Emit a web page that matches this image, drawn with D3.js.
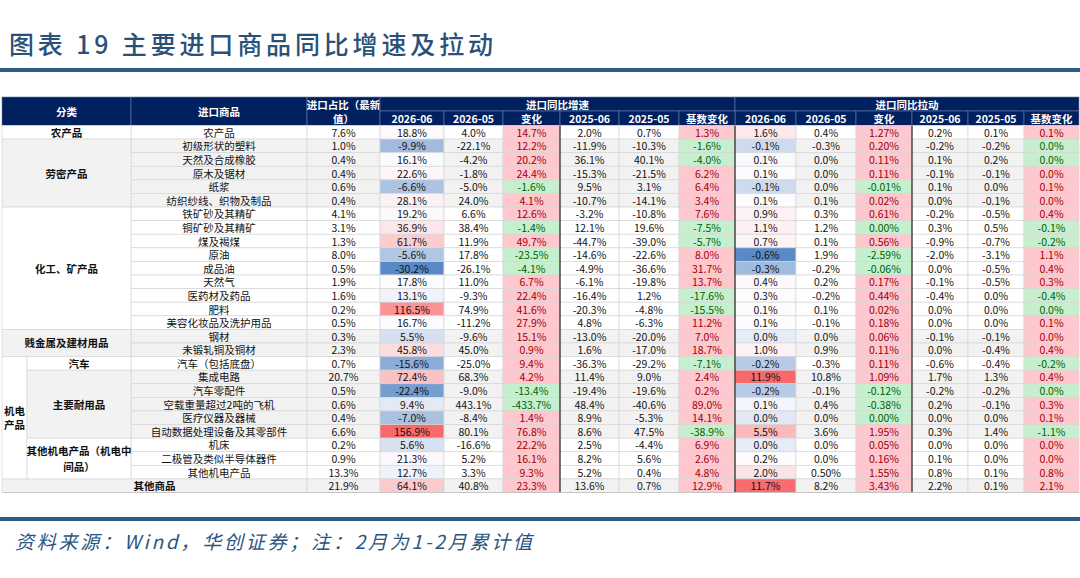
<!DOCTYPE html>
<html>
<head>
<meta charset="utf-8">
<script src="https://cdn.jsdelivr.net/npm/d3@7.9.0/dist/d3.min.js"></script>
<style>
  html, body { margin: 0; padding: 0; background: #fff; }
  svg { display: block; font-family: "Noto Sans CJK SC", "Noto Sans", sans-serif; }
</style>
</head>
<body>
<svg id="chart" width="1080" height="578"></svg>
<script>
// ---- data ----
const items = [
  "农产品", "初级形状的塑料", "天然及合成橡胶", "原木及锯材", "纸浆", "纺织纱线、织物及制品",
  "铁矿砂及其精矿", "铜矿砂及其精矿", "煤及褐煤", "原油", "成品油", "天然气", "医药材及药品",
  "肥料", "美容化妆品及洗护用品", "钢材", "未锻轧铜及铜材", "汽车（包括底盘）", "集成电路",
  "汽车零配件", "空载重量超过2吨的飞机", "医疗仪器及器械", "自动数据处理设备及其零部件",
  "机床", "二极管及类似半导体器件", "其他机电产品", "其他商品"
];

const share = [7.6, 1.0, 0.4, 0.4, 0.6, 0.4, 4.1, 3.1, 1.3, 8.0, 0.5, 1.9, 1.6, 0.2, 0.5, 0.3, 2.3, 0.7, 20.7, 0.5, 0.6, 0.4, 6.6, 0.2, 0.9, 13.3, 21.9];

// 进口同比增速
const g2606 = [18.8, -9.9, 16.1, 22.6, -6.6, 28.1, 19.2, 36.9, 61.7, -5.6, -30.2, 17.8, 13.1, 116.5, 16.7, 5.5, 45.8, -15.6, 72.4, -22.4, 9.4, -7.0, 156.9, 5.6, 21.3, 12.7, 64.1];
const g2605 = [4.0, -22.1, -4.2, -1.8, -5.0, 24.0, 6.6, 38.4, 11.9, 17.8, -26.1, 11.0, -9.3, 74.9, -11.2, -9.6, 45.0, -25.0, 68.3, -9.0, 443.1, -8.4, 80.1, -16.6, 5.2, 3.3, 40.8];
const gChg = [14.7, 12.2, 20.2, 24.4, -1.6, 4.1, 12.6, -1.4, 49.7, -23.5, -4.1, 6.7, 22.4, 41.6, 27.9, 15.1, 0.9, 9.4, 4.2, -13.4, -433.7, 1.4, 76.8, 22.2, 16.1, 9.3, 23.3];
const g2506 = [2.0, -11.9, 36.1, -15.3, 9.5, -10.7, -3.2, 12.1, -44.7, -14.6, -4.9, -6.1, -16.4, -20.3, 4.8, -13.0, 1.6, -36.3, 11.4, -19.4, 48.4, 8.9, 8.6, 2.5, 8.2, 5.2, 13.6];
const g2505 = [0.7, -10.3, 40.1, -21.5, 3.1, -14.1, -10.8, 19.6, -39.0, -22.6, -36.6, -19.8, 1.2, -4.8, -6.3, -20.0, -17.0, -29.2, 9.0, -19.6, -40.6, -5.3, 47.5, -4.4, 5.6, 0.4, 0.7];
const gBase = [1.3, -1.6, -4.0, 6.2, 6.4, 3.4, 7.6, -7.5, -5.7, 8.0, 31.7, 13.7, -17.6, -15.5, 11.2, 7.0, 18.7, -7.1, 2.4, 0.2, 89.0, 14.1, -38.9, 6.9, 2.6, 4.8, 12.9];

// 进口同比拉动
const p2606 = [1.6, -0.1, 0.08, 0.1, -0.1, 0.1, 0.9, 1.1, 0.7, -0.6, -0.3, 0.4, 0.3, 0.1, 0.1, 0.0, 1.0, -0.2, 11.9, -0.2, 0.06, -0.02, 5.5, 0.0, 0.2, 2.0, 11.7];
const p2605 = [0.4, -0.3, 0.0, 0.0, 0.0, 0.1, 0.3, 1.2, 0.1, 1.9, -0.2, 0.2, -0.2, 0.1, -0.1, 0.0, 0.9, -0.3, 10.8, -0.1, 0.4, 0.0, 3.6, 0.0, 0.0, 0.5, 8.2];
const pChg = [1.27, 0.20, 0.11, 0.11, -0.01, 0.02, 0.61, -0.001, 0.56, -2.59, -0.06, 0.17, 0.44, 0.02, 0.18, 0.06, 0.11, 0.11, 1.09, -0.12, -0.38, -0.001, 1.95, 0.05, 0.16, 1.55, 3.43];
const p2506 = [0.2, -0.2, 0.1, -0.1, 0.1, 0.0, -0.2, 0.3, -0.9, -2.0, 0.0, -0.1, -0.4, 0.0, 0.0, -0.1, 0.0, -0.6, 1.7, -0.2, 0.2, 0.0, 0.3, 0.0, 0.1, 0.8, 2.2];
const p2505 = [0.1, -0.2, 0.2, -0.1, 0.0, -0.1, -0.5, 0.5, -0.7, -3.1, -0.5, -0.5, 0.0, 0.0, 0.0, -0.1, -0.4, -0.4, 1.3, -0.2, -0.1, 0.0, 1.4, 0.0, 0.0, 0.1, 0.1];
const pBase = [0.1, -0.02, -0.02, 0.02, 0.1, 0.02, 0.4, -0.1, -0.2, 1.1, 0.4, 0.3, -0.4, -0.02, 0.1, 0.02, 0.4, -0.2, 0.4, -0.02, 0.3, 0.1, -1.1, 0.02, 0.02, 0.8, 2.1];

// cells shown with two decimals in a one-decimal column
const twoDecimalCells = [{ item: "其他机电产品", col: "p2605" }];

// category tree: top level, then 机电产品 sub groups
const groupLabels = ["农产品", "劳密产品", "化工、矿产品", "贱金属及建材用品", "机电产品", "其他商品"];
const groupSizes = [1, 5, 9, 2, 9, 1];
const subGroupLabels = ["汽车", "主要耐用品", "其他机电产品（机电中间品）"];
const subGroupSizes = [1, 5, 3];

const subHeaders = ["2026-06", "2026-05", "变化", "2025-06", "2025-05", "基数变化"];
const title = "图表 19 主要进口商品同比增速及拉动";
const source = "资料来源：Wind，华创证券；注：2月为1-2月累计值";

// ---- layout ----
const colWidths = [25, 104, 176, 73, 64, 59, 57, 59, 60, 56, 61, 60, 56, 56, 56, 55];
const colX = [2, ...d3.cumsum(colWidths).map(d => d + 2)];
const headTop = 97, headMid = 111, bodyTop = 125.5, bodyBottom = 492.5;
const navy = "#002060", gray = "#f2f2f2", grid = "#d6d6d6";
const fs = 10.5;

const rowY = d3.scaleBand().domain(d3.range(items.length)).range([bodyTop, bodyBottom]);
const f1 = d3.formatLocale({ decimal: ".", thousands: ",", grouping: [3], currency: ["", ""], minus: "-" });
const fmt1 = v => f1.format(".1f")(v) + "%";
const fmt2 = v => f1.format(".2f")(v) + "%";

function heat(values) {
  return d3.scaleLinear()
    .domain([d3.min(values), d3.median(values), d3.max(values)])
    .range(["#5A8AC6", "#FCFCFF", "#F8696B"])
    .interpolate(d3.interpolateRgb);
}
const signFill = v => v < 0 ? "#C6EFCE" : "#FFC7CE";
const signText = v => v < 0 ? "#006100" : "#9C0006";

const valueCols = [
  { key: "share", data: share, fmt: fmt1 },
  { key: "g2606", data: g2606, fmt: fmt1, heat: heat(g2606) },
  { key: "g2605", data: g2605, fmt: fmt1 },
  { key: "gChg", data: gChg, fmt: fmt1, sign: true },
  { key: "g2506", data: g2506, fmt: fmt1 },
  { key: "g2505", data: g2505, fmt: fmt1 },
  { key: "gBase", data: gBase, fmt: fmt1, sign: true },
  { key: "p2606", data: p2606, fmt: fmt1, heat: heat(p2606) },
  { key: "p2605", data: p2605, fmt: fmt1 },
  { key: "pChg", data: pChg, fmt: fmt2, sign: true },
  { key: "p2506", data: p2506, fmt: fmt1 },
  { key: "p2505", data: p2505, fmt: fmt1 },
  { key: "pBase", data: pBase, fmt: fmt1, sign: true }
];

// leaf groups alternate white / gray
const groupStarts = [0, ...d3.cumsum(groupSizes)];
const subStart = groupStarts[groupLabels.indexOf("机电产品")];
const subStarts = [0, ...d3.cumsum(subGroupSizes)].map(d => d + subStart);
const leaves = [];
groupLabels.forEach((g, i) => {
  if (g === "机电产品") {
    subGroupLabels.forEach((s, j) => leaves.push({ start: subStarts[j], n: subGroupSizes[j] }));
  } else {
    leaves.push({ start: groupStarts[i], n: groupSizes[i] });
  }
});
const rowShade = new Array(items.length).fill(false);
leaves.forEach((l, k) => d3.range(l.start, l.start + l.n).forEach(r => rowShade[r] = k % 2 === 1));

const svg = d3.select("#chart");

// ---- title & source ----
svg.append("text")
  .attr("x", 9).attr("y", 54)
  .attr("textLength", 484).attr("lengthAdjust", "spacing")
  .style("font-size", "25px").style("font-weight", 500)
  .attr("fill", "#2a5179")
  .text(title);
svg.append("rect").attr("x", 0).attr("y", 68).attr("width", 1080).attr("height", 4).attr("fill", "#2f5d88");
svg.append("rect").attr("x", 0).attr("y", 517).attr("width", 1080).attr("height", 4).attr("fill", "#2f5d88");
svg.append("text")
  .attr("x", 15).attr("y", 549)
  .attr("textLength", 517).attr("lengthAdjust", "spacing")
  .style("font-size", "19px").style("font-style", "italic")
  .attr("fill", "#2a5580")
  .text(source);

// ---- header ----
const head = svg.append("g");
function headCell(c0, c1, y0, y1, lines) {
  head.append("rect")
    .attr("x", colX[c0]).attr("y", y0)
    .attr("width", colX[c1] - colX[c0]).attr("height", y1 - y0)
    .attr("fill", navy).attr("stroke", "#6f7fa3").attr("stroke-width", 0.6);
  const cx = (colX[c0] + colX[c1]) / 2, cy = (y0 + y1) / 2;
  lines.forEach((t, i) => {
    head.append("text")
      .attr("x", cx).attr("y", cy + (i - (lines.length - 1) / 2) * 14.5)
      .attr("text-anchor", "middle").attr("dominant-baseline", "central")
      .attr("fill", "#fff").style("font-size", fs + "px").style("font-weight", "bold")
      .text(t);
  });
}
headCell(0, 2, headTop, bodyTop, ["分类"]);
headCell(2, 3, headTop, bodyTop, ["进口商品"]);
headCell(3, 4, headTop, bodyTop, ["进口占比（最新", "值）"]);
headCell(4, 10, headTop, headMid, ["进口同比增速"]);
headCell(10, 16, headTop, headMid, ["进口同比拉动"]);
subHeaders.forEach((h, i) => {
  headCell(4 + i, 5 + i, headMid, bodyTop, [h]);
  headCell(10 + i, 11 + i, headMid, bodyTop, [h]);
});

// ---- body ----
const body = svg.append("g");
const rows = body.selectAll("g.row").data(items).join("g").attr("class", "row");
const last = items.length - 1;

// item name cell (其他商品 spans the category columns too)
rows.append("rect")
  .attr("x", (d, i) => i === last ? colX[0] : colX[2])
  .attr("y", (d, i) => rowY(i))
  .attr("width", (d, i) => colX[3] - (i === last ? colX[0] : colX[2]))
  .attr("height", rowY.bandwidth())
  .attr("fill", (d, i) => rowShade[i] ? gray : "#fff")
  .attr("stroke", grid).attr("stroke-width", 0.7);
rows.append("text")
  .attr("x", (d, i) => i === last ? (colX[0] + colX[3]) / 2 : (colX[2] + colX[3]) / 2)
  .attr("y", (d, i) => rowY(i) + rowY.bandwidth() / 2)
  .attr("text-anchor", "middle").attr("dominant-baseline", "central")
  .style("font-size", fs + "px")
  .style("font-weight", (d, i) => i === last ? "bold" : null)
  .attr("fill", "#111")
  .text(d => d);

valueCols.forEach((col, ci) => {
  const c = ci + 3;
  const cells = rows.append("g");
  cells.append("rect")
    .attr("x", colX[c]).attr("y", (d, i) => rowY(i))
    .attr("width", colX[c + 1] - colX[c]).attr("height", rowY.bandwidth())
    .attr("fill", (d, i) => {
      const v = col.data[i];
      if (col.heat) return col.heat(v);
      if (col.sign) return signFill(v);
      return rowShade[i] ? gray : "#fff";
    })
    .attr("stroke", grid).attr("stroke-width", 0.7);
  cells.append("text")
    .attr("x", (colX[c] + colX[c + 1]) / 2)
    .attr("y", (d, i) => rowY(i) + rowY.bandwidth() / 2)
    .attr("text-anchor", "middle").attr("dominant-baseline", "central")
    .style("font-size", fs + "px")
    .attr("fill", (d, i) => col.sign ? signText(col.data[i]) : "#111")
    .text((d, i) => {
      const two = twoDecimalCells.some(e => e.item === d && e.col === col.key);
      return two ? fmt2(col.data[i]) : col.fmt(col.data[i]);
    });
});

// category cells
function groupCell(c0, c1, start, n, label, shade, lines, gap) {
  const y0 = rowY(start), y1 = rowY(start + n - 1) + rowY.bandwidth();
  body.append("rect")
    .attr("x", colX[c0]).attr("y", y0)
    .attr("width", colX[c1] - colX[c0]).attr("height", y1 - y0)
    .attr("fill", shade ? gray : "#fff")
    .attr("stroke", grid).attr("stroke-width", 0.7);
  const parts = lines || [label];
  parts.forEach((t, i) => {
    body.append("text")
      .attr("x", (colX[c0] + colX[c1]) / 2)
      .attr("y", (y0 + y1) / 2 + (i - (parts.length - 1) / 2) * (gap || 15))
      .attr("text-anchor", "middle").attr("dominant-baseline", "central")
      .style("font-size", fs + "px").style("font-weight", "bold")
      .attr("fill", "#111")
      .text(t);
  });
}
groupLabels.forEach((g, i) => {
  if (g === "其他商品") return;
  if (g === "机电产品") {
    groupCell(0, 1, groupStarts[i], groupSizes[i], g, false, ["机电", "产品"], 14);
    subGroupLabels.forEach((s, j) => {
      const lines = s.length > 8 ? [s.slice(0, 10), s.slice(10)] : null;
      groupCell(1, 2, subStarts[j], subGroupSizes[j], s, rowShade[subStarts[j]], lines, 16);
    });
  } else {
    groupCell(0, 2, groupStarts[i], groupSizes[i], g, rowShade[groupStarts[i]]);
  }
});

// heavy separators after 变化 columns and between the two blocks
[7, 10, 13].forEach(c => {
  svg.append("line")
    .attr("x1", colX[c]).attr("x2", colX[c])
    .attr("y1", bodyTop).attr("y2", bodyBottom)
    .attr("stroke", "#222").attr("stroke-width", 1.2);
});
svg.append("line")
  .attr("x1", colX[0]).attr("x2", colX[16])
  .attr("y1", bodyBottom).attr("y2", bodyBottom)
  .attr("stroke", "#bfbfbf").attr("stroke-width", 0.8);
</script>
</body>
</html>
